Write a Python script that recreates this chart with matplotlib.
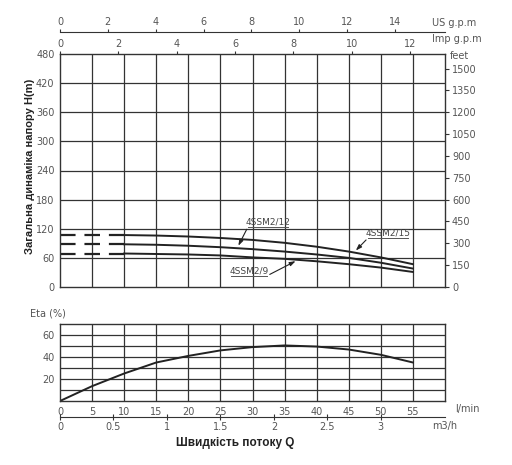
import matplotlib.pyplot as plt
import numpy as np

# flow in l/min
flow = [10, 15, 20, 25, 30, 35, 40, 45, 50, 55]
head_15 = [107, 106, 104, 101, 97, 91, 83, 73, 61, 47]
head_12 = [88, 87, 85, 82, 78, 73, 67, 60, 50, 38]
head_9 = [69, 68, 67, 65, 61, 58, 53, 47, 40, 31]
dash_flow = [0, 10]

eta_flow = [0, 5, 10, 15, 20, 25, 30, 35, 40, 45, 50, 55]
eta = [0, 13.5, 25, 35, 41, 46, 49, 50.5, 49.5, 46.8, 42, 35]

x_ticks = [0, 5, 10, 15, 20, 25, 30, 35, 40, 45, 50, 55]
h_ticks = [0, 60, 120, 180, 240, 300, 360, 420, 480]
ft_ticks = [0, 150, 300, 450, 600, 750, 900, 1050, 1200, 1350, 1500]
imp_ticks = [0, 2, 4, 6, 8, 10, 12]
us_ticks = [0, 2, 4, 6, 8, 10, 12, 14]
m3h_ticks = [0, 0.5, 1, 1.5, 2, 2.5, 3]
m3h_labels = ['0', '0.5', '1', '1.5', '2', '2.5', '3']

W, H = 512, 465
def fr(l, t, r, b):
    return [l / W, 1 - b / H, (r - l) / W, (b - t) / H]

lc = '#222222'
gc = '#333333'
tc = '#555555'
fs = 7

fig = plt.figure(figsize=(5.12, 4.65), dpi=100)

# ---- main head chart
ax = fig.add_axes(fr(60, 54, 445, 287))
ax.set_xlim(0, 60)
ax.set_ylim(0, 480)
for x in np.arange(5, 60, 5):
    ax.axvline(x, color=gc, lw=0.9)
for y in h_ticks[1:-1]:
    ax.axhline(y, color=gc, lw=0.9)
for s in ax.spines.values():
    s.set_color(gc)
    s.set_linewidth(1.0)
ax.set_xticks([])
ax.set_yticks(h_ticks)
ax.tick_params(axis='y', length=0, pad=4, labelsize=fs, labelcolor=tc)

for hd in (head_15, head_12, head_9):
    ax.plot(flow, hd, color=lc, lw=1.4)
    ax.plot(dash_flow, [hd[0], hd[0]], color=lc, lw=1.6, dashes=(7, 4))

arrow = dict(arrowstyle='-|>,head_length=0.35,head_width=0.12', color=lc, lw=0.8)

def label(txt, x0, x1, yu, ytxt, xstart, xtip, curve):
    ytip = np.interp(xtip, flow, curve)
    ax.text((x0 + x1) / 2, ytxt, txt, fontsize=6.5, color='#444444',
            ha='center', va='center')
    ax.plot([x0, x1], [yu, yu], color='#555555', lw=0.7)
    ax.annotate('', xy=(xtip, ytip), xytext=(xstart, yu), arrowprops=arrow)

label('4SSM2/12', 29.3, 35.5, 124, 134, 29.3, 27.6, head_12)
label('4SSM2/15', 48.0, 54.3, 101, 111, 48.0, 45.8, head_15)
label('4SSM2/9', 26.6, 32.3, 23.3, 33, 32.3, 37.1, head_9)

ft = ax.secondary_yaxis('right', functions=(lambda m: m * 10 / 3, lambda f: f * 3 / 10))
ft.set_yticks(ft_ticks)
ft.tick_params(length=3, width=0.8, color=gc, pad=2, labelsize=fs, labelcolor=tc)
ft.spines['right'].set_visible(False)
fig.text(450 / W, 1 - 56 / H, 'feet', fontsize=fs, color=tc, va='center')

imp = ax.secondary_xaxis('top', functions=(lambda q: q / 4.546, lambda g: g * 4.546))
imp.set_xticks(imp_ticks)
imp.tick_params(length=2.5, width=0.8, color=gc, pad=1, labelsize=fs, labelcolor=tc)
imp.spines['top'].set_visible(False)
fig.text(432 / W, 1 - 39 / H, 'Imp g.p.m', fontsize=fs, color=tc, va='center')

# ---- US gpm line
us = fig.add_axes(fr(60, 32, 445, 33))
us.set_xlim(0, 60 / 3.73)
us.set_ylim(0, 1)
for k in ('left', 'right', 'bottom'):
    us.spines[k].set_visible(False)
us.spines['top'].set_color(gc)
us.set_yticks([])
us.xaxis.tick_top()
us.set_xticks(us_ticks)
us.tick_params(axis='x', length=2.5, width=0.8, color=gc, pad=1, labelsize=fs, labelcolor=tc)
us.patch.set_visible(False)
fig.text(432 / W, 1 - 23 / H, 'US g.p.m', fontsize=fs, color=tc, va='center')

fig.text(30 / W, 1 - 166 / H, 'Загальна динаміка напору H(m)', rotation=90,
         fontsize=8, fontweight='bold', family='Liberation Sans', color='#222222',
         ha='center', va='center')

# ---- efficiency chart
ae = fig.add_axes(fr(60, 324, 445, 401))
ae.set_xlim(0, 60)
ae.set_ylim(0, 70)
for x in np.arange(5, 60, 5):
    ae.axvline(x, color=gc, lw=0.9)
for y in np.arange(10, 70, 10):
    ae.axhline(y, color=gc, lw=0.9)
for s in ae.spines.values():
    s.set_color(gc)
    s.set_linewidth(1.0)
ae.plot(eta_flow, eta, color=lc, lw=1.4)
ae.set_xticks(x_ticks)
ae.set_yticks([20, 40, 60])
ae.tick_params(length=0, labelsize=fs, labelcolor=tc)
ae.tick_params(axis='x', pad=4)
ae.tick_params(axis='y', pad=4)
fig.text(30 / W, 1 - 313 / H, 'Eta (%)', fontsize=fs, color=tc, va='center')
fig.text(455 / W, 1 - 409 / H, 'l/min', fontsize=fs, color=tc, va='center')

# ---- m3/h line
mh = fig.add_axes(fr(60, 416, 445, 417))
mh.set_xlim(0, 60 / 16.667)
mh.set_ylim(0, 1)
for k in ('left', 'right', 'top'):
    mh.spines[k].set_visible(False)
mh.spines['bottom'].set_color(gc)
mh.set_yticks([])
mh.set_xticks(m3h_ticks)
mh.set_xticklabels(m3h_labels)
mh.tick_params(axis='x', direction='inout', length=5, width=0.8, color=gc, pad=1,
               labelsize=fs, labelcolor=tc)
mh.patch.set_visible(False)
fig.text(432 / W, 1 - 426 / H, 'm3/h', fontsize=fs, color=tc, va='center')

fig.text(235 / W, 1 - 443 / H, 'Швидкість потоку Q', fontsize=8.5, fontweight='bold',
         family='Liberation Sans', color='#222222', ha='center', va='center')

fig.savefig('out.png', dpi=100)
